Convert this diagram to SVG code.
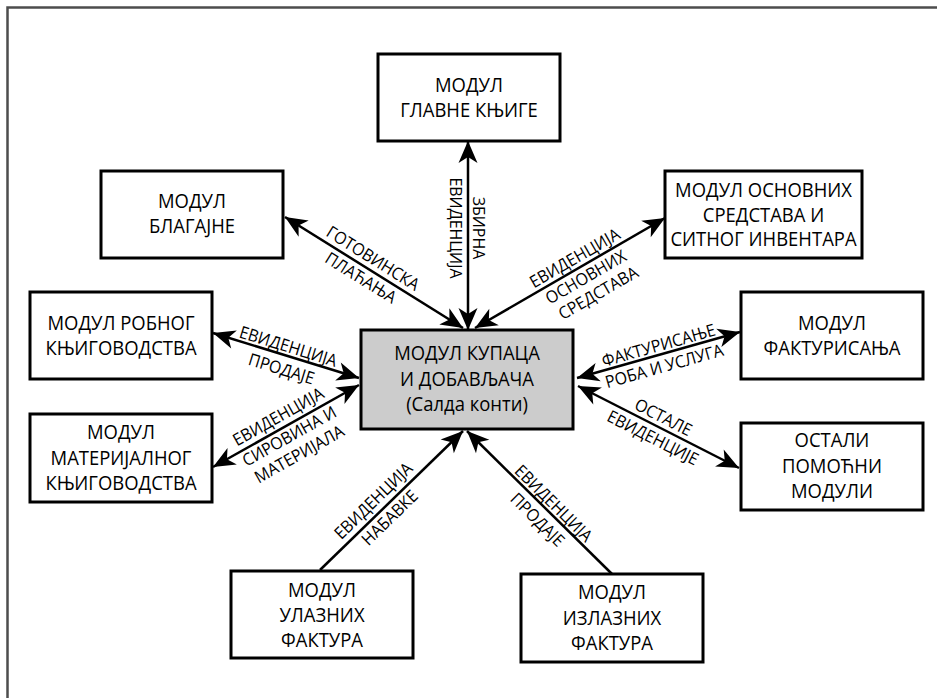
<svg xmlns="http://www.w3.org/2000/svg" width="937" height="698" viewBox="0 0 937 698">
<defs>
<style>
.box{fill:#ffffff;stroke:#000000;stroke-width:3}
.main{fill:#cccccc;stroke:#000000;stroke-width:3}
.t{font-family:"Open Sans","Noto Sans","DejaVu Sans",sans-serif;font-size:20.5px;fill:#000;text-anchor:middle}
.l{font-family:"Open Sans","Noto Sans","DejaVu Sans",sans-serif;font-size:17px;fill:#000;text-anchor:middle}
.c{stroke:#000;stroke-width:2.5;fill:none}
.two{marker-start:url(#ah);marker-end:url(#ah)}
.one{marker-end:url(#ah)}
</style>
<marker id="ah" viewBox="-23 -11 25 22" markerWidth="25" markerHeight="22" refX="0" refY="0" orient="auto-start-reverse" markerUnits="userSpaceOnUse">
<path d="M0,0 L-22,-9.5 L-16,0 L-22,9.5 Z" fill="#000"/>
</marker>
</defs>
<rect width="937" height="698" fill="#ffffff"/>
<g id="frame" stroke="#4d4d4d" stroke-width="2.5" fill="none">
<path d="M7.5,698 L7.5,7.5 L937,7.5"/>
</g>
<g id="connectors">
<path class="c two" d="M468,141 L468,330"/>
<path class="c two" d="M285,217 L463,328"/>
<path class="c two" d="M665,218 L475,328"/>
<path class="c two" d="M213,333 L359,378"/>
<path class="c two" d="M213,467 L359,385"/>
<path class="c two" d="M740,332 L577,378"/>
<path class="c two" d="M578,386 L739,468"/>
<path class="c one" d="M320,570 L463,431"/>
<path class="c one" d="M612,574 L467,431"/>
</g>
<g id="labels">
<text class="l" transform="translate(468,228) rotate(90) scale(0.94,1)"><tspan x="0" y="-5.5">ЗБИРНА</tspan><tspan x="0" y="17.5">ЕВИДЕНЦИЈА</tspan></text>
<text class="l" transform="translate(367,268) rotate(32) scale(0.94,1)"><tspan x="0" y="-5.5">ГОТОВИНСКА</tspan><tspan x="0" y="17.5">ПЛАЋАЊА</tspan></text>
<text class="l" transform="translate(580,267) rotate(-30) scale(0.94,1)"><tspan x="0" y="-4.5">ЕВИДЕНЦИЈА</tspan><tspan x="0" y="17.5">ОСНОВНИХ</tspan><tspan x="3" y="37.5">СРЕДСТАВА</tspan></text>
<text class="l" transform="translate(285.6,355.4) rotate(17.1) scale(0.94,1)"><tspan x="0" y="-3.5">ЕВИДЕНЦИЈА</tspan><tspan x="0" y="20">ПРОДАЈЕ</tspan></text>
<text class="l" transform="translate(284,427) rotate(-29.3) scale(0.94,1)"><tspan x="0" y="-6">ЕВИДЕНЦИЈА</tspan><tspan x="0" y="16.5">СИРОВИНА И</tspan><tspan x="0" y="37">МАТЕРИЈАЛА</tspan></text>
<text class="l" transform="translate(661,354.4) rotate(-15.8) scale(0.94,1)"><tspan x="0" y="-3.5">ФАКТУРИСАЊЕ</tspan><tspan x="0" y="18">РОБА И УСЛУГА</tspan></text>
<text class="l" transform="translate(658.4,427) rotate(27) scale(0.94,1)"><tspan x="0" y="-5">ОСТАЛЕ</tspan><tspan x="0" y="18">ЕВИДЕНЦИЈЕ</tspan></text>
<text class="l" transform="translate(382,509.7) rotate(-44.2) scale(0.94,1)"><tspan x="0" y="-6.5">ЕВИДЕНЦИЈА</tspan><tspan x="0" y="17">НАБАВКЕ</tspan></text>
<text class="l" transform="translate(547,510) rotate(44.6) scale(0.94,1)"><tspan x="0" y="-3.5">ЕВИДЕНЦИЈА</tspan><tspan x="0" y="19.5">ПРОДАЈЕ</tspan></text>
</g>
<g id="node-glavne">
<rect class="box" x="378" y="54" width="182" height="87"/>
<text class="t" transform="translate(469,0) scale(0.9,1)"><tspan x="0" y="92">МОДУЛ</tspan><tspan x="0" y="117.5">ГЛАВНЕ КЊИГЕ</tspan></text>
</g>
<g id="node-blagajne">
<rect class="box" x="101" y="171" width="182" height="87"/>
<text class="t" transform="translate(192,0) scale(0.9,1)"><tspan x="0" y="208">МОДУЛ</tspan><tspan x="0" y="233.5">БЛАГАЈНЕ</tspan></text>
</g>
<g id="node-osnovnih">
<rect class="box" x="665" y="171" width="197" height="87"/>
<text class="t" transform="translate(763.5,0) scale(0.9,1)"><tspan x="0" y="197">МОДУЛ ОСНОВНИХ</tspan><tspan x="0" y="222">СРЕДСТАВА И</tspan><tspan x="0" y="246.5">СИТНОГ ИНВЕНТАРА</tspan></text>
</g>
<g id="node-robnog">
<rect class="box" x="30" y="292" width="182" height="87"/>
<text class="t" transform="translate(121,0) scale(0.9,1)"><tspan x="0" y="330">МОДУЛ РОБНОГ</tspan><tspan x="0" y="355.5">КЊИГОВОДСТВА</tspan></text>
</g>
<g id="node-materijalnog">
<rect class="box" x="30" y="414" width="182" height="88"/>
<text class="t" transform="translate(121,0) scale(0.9,1)"><tspan x="0" y="439.5">МОДУЛ</tspan><tspan x="0" y="465">МАТЕРИЈАЛНОГ</tspan><tspan x="0" y="490.5">КЊИГОВОДСТВА</tspan></text>
</g>
<g id="node-center">
<rect class="main" x="361" y="330" width="212" height="99"/>
<text class="t" transform="translate(467,0) scale(0.9,1)"><tspan x="0" y="360">МОДУЛ КУПАЦА</tspan><tspan x="0" y="386">И ДОБАВЉАЧА</tspan><tspan x="0" y="411">(Салда конти)</tspan></text>
</g>
<g id="node-fakturisanja">
<rect class="box" x="741" y="292" width="182" height="87"/>
<text class="t" transform="translate(832,0) scale(0.9,1)"><tspan x="0" y="330">МОДУЛ</tspan><tspan x="0" y="355.5">ФАКТУРИСАЊА</tspan></text>
</g>
<g id="node-ostali">
<rect class="box" x="741" y="423" width="182" height="87"/>
<text class="t" transform="translate(832,0) scale(0.9,1)"><tspan x="0" y="447">ОСТАЛИ</tspan><tspan x="0" y="473">ПОМОЋНИ</tspan><tspan x="0" y="498.5">МОДУЛИ</tspan></text>
</g>
<g id="node-ulaznih">
<rect class="box" x="231" y="571" width="182" height="87"/>
<text class="t" transform="translate(322,0) scale(0.9,1)"><tspan x="0" y="597">МОДУЛ</tspan><tspan x="0" y="622">УЛАЗНИХ</tspan><tspan x="0" y="647">ФАКТУРА</tspan></text>
</g>
<g id="node-izlaznih">
<rect class="box" x="521" y="574" width="182" height="88"/>
<text class="t" transform="translate(612,0) scale(0.9,1)"><tspan x="0" y="599.5">МОДУЛ</tspan><tspan x="0" y="625">ИЗЛАЗНИХ</tspan><tspan x="0" y="650.5">ФАКТУРА</tspan></text>
</g>
</svg>
